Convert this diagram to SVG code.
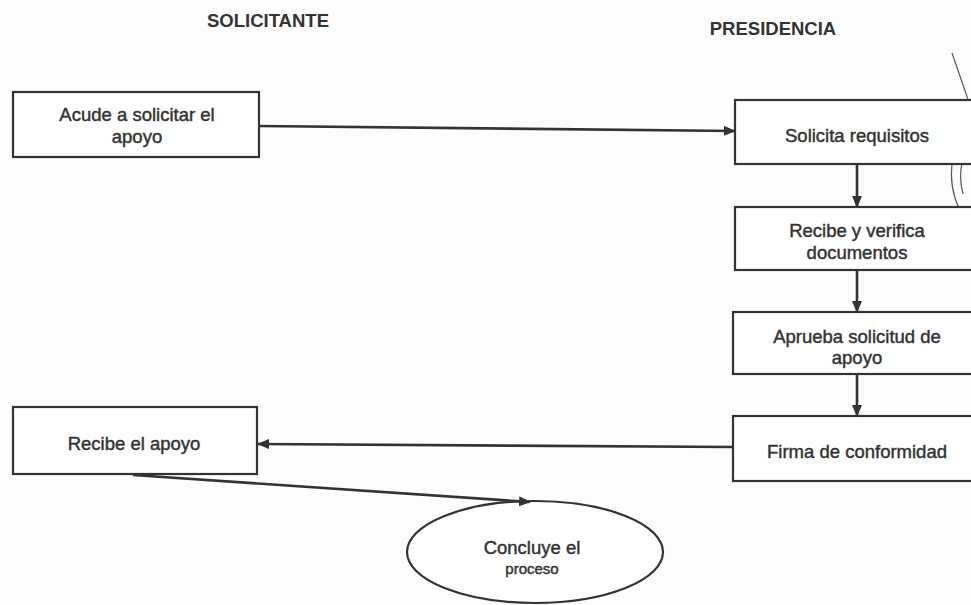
<svg xmlns="http://www.w3.org/2000/svg" width="971" height="605" viewBox="0 0 971 605">
<defs>
<style>
.box{fill:#ffffff;stroke:#333333;stroke-width:2.2}
.t{font-family:"Liberation Sans",Arial,sans-serif;font-size:18.5px;fill:#333333;text-anchor:middle;stroke:#333333;stroke-width:0.45}
.h{font-family:"Liberation Sans",Arial,sans-serif;font-size:18.5px;font-weight:bold;fill:#333333;text-anchor:middle}
.c{fill:none;stroke:#333333;stroke-width:2.6}
.stamp{fill:none;stroke:#555555;stroke-width:1.2}
</style>
<marker id="ah" markerWidth="12" markerHeight="10" refX="11" refY="5" orient="auto" markerUnits="userSpaceOnUse">
<path d="M0,0 L12,5 L0,10 Z" fill="#333333"/>
</marker>
</defs>
<rect width="971" height="605" fill="#fdfdfd"/>
<text class="h" x="268" y="27">SOLICITANTE</text>
<text class="h" x="773" y="35">PRESIDENCIA</text>
<g id="stamp">
<path class="stamp" d="M952,53 L971,108"/>
<path class="stamp" d="M971,128 C953,138 947,172 955,198 C959,210 963,217 968,224"/>
<path class="stamp" d="M971,148 C961,156 958,175 963,194"/>
</g>
<g id="n1">
<rect class="box" x="13" y="92" width="246" height="65"/>
<text class="t" x="137" y="121">Acude a solicitar el</text>
<text class="t" x="137" y="143">apoyo</text>
</g>
<g id="n2">
<rect class="box" x="735" y="100" width="250" height="64"/>
<text class="t" x="857" y="142">Solicita requisitos</text>
</g>
<g id="n3">
<rect class="box" x="735" y="207" width="250" height="63"/>
<text class="t" x="857" y="237">Recibe y verifica</text>
<text class="t" x="857" y="259">documentos</text>
</g>
<g id="n4">
<rect class="box" x="733" y="312" width="252" height="62"/>
<text class="t" x="857" y="343">Aprueba solicitud de</text>
<text class="t" x="857" y="364">apoyo</text>
</g>
<g id="n5">
<rect class="box" x="733" y="416" width="252" height="65"/>
<text class="t" x="857" y="458">Firma de conformidad</text>
</g>
<g id="n6">
<rect class="box" x="13" y="407" width="244" height="67"/>
<text class="t" x="134" y="450">Recibe el apoyo</text>
</g>
<g id="n7">
<ellipse class="box" cx="535" cy="552" rx="128" ry="51"/>
<text class="t" x="532" y="554">Concluye el</text>
<text class="t" x="532" y="574" style="font-size:15px">proceso</text>
</g>
<g id="connectors">
<path class="c" d="M259,126 L735,131" marker-end="url(#ah)"/>
<path class="c" d="M857,165 L857,207" marker-end="url(#ah)"/>
<path class="c" d="M857,270 L857,312" marker-end="url(#ah)"/>
<path class="c" d="M857,374 L857,416" marker-end="url(#ah)"/>
<path class="c" d="M733,447 L258,444" marker-end="url(#ah)"/>
<path class="c" d="M133,475 L530,502" marker-end="url(#ah)"/>
</g>
</svg>
